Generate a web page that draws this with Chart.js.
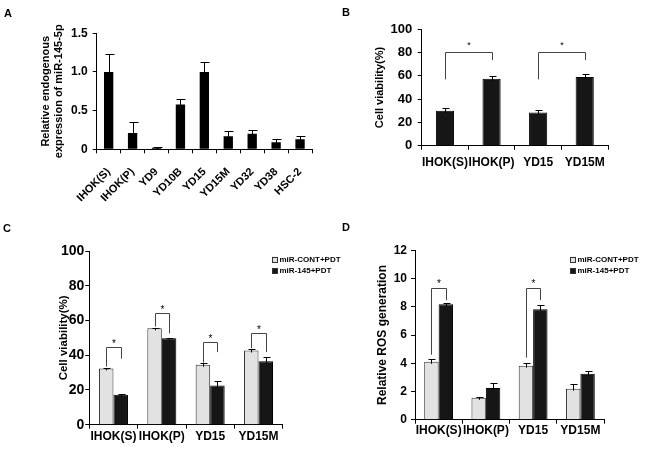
<!DOCTYPE html>
<html><head><meta charset="utf-8">
<script src="https://cdn.jsdelivr.net/npm/chart.js@4/dist/chart.umd.min.js"></script>
<style>
html,body{margin:0;padding:0;background:#fff;}
#wrap{position:relative;width:650px;height:454px;overflow:hidden;background:#fff;}
canvas{position:absolute;}
.lbl{position:absolute;font:bold 11px "Liberation Sans",Arial,sans-serif;line-height:11px;color:#000;}
</style></head><body>
<div id="wrap">
<canvas id="cA" width="325" height="227" style="left:0;top:0"></canvas>
<canvas id="cB" width="325" height="227" style="left:325px;top:0"></canvas>
<canvas id="cC" width="345" height="227" style="left:0;top:227px"></canvas>
<canvas id="cD" width="325" height="227" style="left:325px;top:227px"></canvas>
<div class="lbl" style="left:4px;top:7.6px">A</div>
<div class="lbl" style="left:342px;top:6.6px">B</div>
<div class="lbl" style="left:3px;top:222.6px">C</div>
<div class="lbl" style="left:342px;top:221.6px">D</div>
</div>
<script>
// ---- data ----
const aLabels = ['IHOK(S)','IHOK(P)','YD9','YD10B','YD15','YD15M','YD32','YD38','HSC-2'];
const aValues = [1.0, 0.21, 0.02, 0.58, 1.0, 0.17, 0.2, 0.09, 0.13];
const aErrors = [0.23, 0.14, 0.01, 0.07, 0.13, 0.07, 0.05, 0.04, 0.04];

const bLabels = ['IHOK(S)','IHOK(P)','YD15','YD15M'];
const bValues = [30, 57.5, 28.5, 59];
const bErrors = [2.4, 2.5, 2.4, 3];
// [left category, right category, bracket top, left leg end, right leg end]
const bBrackets = [[0, 1, 80.5, 57, 73.5], [2, 3, 80.5, 57, 73.5]];

const cdLabels = ['IHOK(S)','IHOK(P)','YD15','YD15M'];
const seriesNames = ['miR-CONT+PDT','miR-145+PDT'];
const cCont = [32.4, 55.5, 34.5, 42.7];
const cContErr = [0.3, 0.3, 0.8, 0.7];
const c145 = [17.3, 49.8, 22.5, 36.6];
const c145Err = [0.4, 0.4, 2.4, 2.3];
// [category, bracket top, left leg end, right leg end]
const cBrackets = [[0, 44.7, 33.5, 38], [1, 64.3, 56.5, 52.5], [2, 47.6, 35.8, 41.8], [3, 52.8, 44, 41.8]];

const dCont = [4.1, 1.55, 3.83, 2.2];
const dContErr = [0.19, 0.05, 0.18, 0.3];
const d145 = [8.18, 2.25, 7.82, 3.26];
const d145Err = [0.1, 0.35, 0.28, 0.18];
const dBrackets = [[0, 9.35, 4.6, 8.47], [2, 9.3, 4.4, 8.47]];

// ---- helpers ----
const FAM = '"Liberation Sans", Arial, sans-serif';
const LIGHT = '#e2e2e2', DARK = '#161616';
const WT = 'bold';

const marks = {
  id: 'marks',
  afterDatasetsDraw(chart, args, o) {
    const ctx = chart.ctx, ys = chart.scales.y;
    ctx.save();
    ctx.lineWidth = 1;
    chart.data.datasets.forEach((ds, di) => {
      if (!ds.errors) return;
      chart.getDatasetMeta(di).data.forEach((bar, i) => {
        const x = Math.round(bar.x) + 0.5;
        const y1 = Math.round(ys.getPixelForValue(ds.data[i] + ds.errors[i])) + 0.5;
        ctx.strokeStyle = '#000';
        ctx.beginPath();
        ctx.moveTo(x, bar.y + 2); ctx.lineTo(x, y1);
        ctx.moveTo(x - o.cap, y1); ctx.lineTo(x + o.cap + 1, y1);
        ctx.stroke();
      });
    });
    (o.brackets || []).forEach(b => {
      const xl = Math.round(chart.getDatasetMeta(b.ld).data[b.li].x) + 0.5;
      const xr = Math.round(chart.getDatasetMeta(b.rd).data[b.ri].x) + 0.5;
      const yt = Math.round(ys.getPixelForValue(b.top)) + 0.5;
      const yl = ys.getPixelForValue(b.leftEnd), yr = ys.getPixelForValue(b.rightEnd);
      ctx.strokeStyle = '#444';
      ctx.beginPath();
      ctx.moveTo(xl, yl); ctx.lineTo(xl, yt); ctx.lineTo(xr, yt); ctx.lineTo(xr, yr);
      ctx.stroke();
      ctx.fillStyle = '#000';
      ctx.font = o.starSize + 'px ' + FAM;
      ctx.textAlign = 'center'; ctx.textBaseline = 'alphabetic';
      ctx.fillText('*', (xl + xr) / 2, yt - o.starGap + 0.58 * o.starSize);
    });
    if (o.legend) {
      const L = o.legend;
      chart.data.datasets.forEach((ds, i) => {
        const cy = L.y + i * L.gap;
        ctx.fillStyle = ds.backgroundColor;
        ctx.fillRect(L.x, cy - L.box / 2, L.box, L.box);
        ctx.strokeStyle = '#333';
        ctx.strokeRect(L.x + 0.5, Math.round(cy - L.box / 2) + 0.5, L.box - 1, L.box - 1);
        ctx.fillStyle = '#000';
        ctx.font = WT + ' ' + L.size + 'px ' + FAM;
        ctx.textAlign = 'left'; ctx.textBaseline = 'middle';
        ctx.fillText(ds.label, L.x + L.box + 1.5, cy);
      });
    }
    ctx.restore();
  }
};

function makeChart(id, p) {
  return new Chart(document.getElementById(id), {
    type: 'bar',
    data: { labels: p.labels, datasets: p.datasets },
    plugins: [marks],
    options: {
      responsive: false, animation: false,
      layout: { padding: { left: p.padL, top: p.padT, right: p.padR, bottom: 0 } },
      plugins: { legend: { display: false }, tooltip: { enabled: false }, marks: p.marks },
      datasets: { bar: { barPercentage: p.barPct, categoryPercentage: p.catPct } },
      scales: {
        x: {
          ticks: { font: { size: p.xFont, family: FAM, weight: WT }, color: '#000', padding: p.xPad,
                   maxRotation: p.rot, minRotation: p.rot, autoSkip: false },
          grid: { display: true, drawOnChartArea: false, drawTicks: true, tickLength: 4, color: '#000' },
          border: { display: true, color: '#000', width: 1 },
          afterFit(s) { s.height = p.xH; s.paddingLeft = 0; s.paddingRight = 0; }
        },
        y: {
          min: 0, max: p.max,
          ticks: { stepSize: p.step, font: { size: p.yFont, family: FAM, weight: WT }, color: '#000', padding: p.yPad },
          grid: { display: true, drawOnChartArea: false, drawTicks: true, tickLength: 4, color: '#000' },
          border: { display: true, color: '#000', width: 1 },
          title: { display: true, text: p.title, color: '#000', padding: 0,
                   font: { size: p.tFont, family: FAM, weight: WT, lineHeight: 1.2 } },
          afterFit(s) { s.width = p.yW; s.paddingTop = 0; s.paddingBottom = 0; }
        }
      }
    }
  });
}

function pairBrackets(list) {
  return list.map(b => ({ ld: 0, li: b[0], rd: 1, ri: b[0], top: b[1], leftEnd: b[2], rightEnd: b[3] }));
}

// Panel A
makeChart('cA', {
  labels: aLabels,
  datasets: [{ label: 'A', data: aValues, errors: aErrors, backgroundColor: '#000', borderColor: '#000', borderWidth: 0 }],
  padL: 39.4, padT: 33.3, padR: 13, xH: 77.7, yW: 57.3,
  barPct: 0.39, catPct: 1, xFont: 11, yFont: 12, tFont: 11, xPad: 12, yPad: 5, rot: 45,
  max: 1.5, step: 0.5, title: ['Relative endogenous', 'expression of miR-145-5p'],
  marks: { cap: 4, brackets: [] }
});

// Panel B
makeChart('cB', {
  labels: bLabels,
  datasets: [{ label: 'B', data: bValues, errors: bErrors, backgroundColor: DARK, borderColor: '#000', borderWidth: 1 }],
  padL: 48.4, padT: 29.3, padR: 42, xH: 81.3, yW: 48.3,
  barPct: 0.39, catPct: 1, xFont: 12, yFont: 13, tFont: 11, xPad: 5.5, yPad: 5.5, rot: 0,
  max: 100, step: 20, title: 'Cell viability(%)',
  marks: { cap: 3, starSize: 9, starGap: 10,
           brackets: bBrackets.map(b => ({ ld: 0, li: b[0], rd: 0, ri: b[1], top: b[2], leftEnd: b[3], rightEnd: b[4] })) }
});

// Panel C
makeChart('cC', {
  labels: cdLabels,
  datasets: [
    { label: seriesNames[0], data: cCont, errors: cContErr, backgroundColor: LIGHT, borderColor: '#333', borderWidth: 1 },
    { label: seriesNames[1], data: c145, errors: c145Err, backgroundColor: DARK, borderColor: '#000', borderWidth: 1 }
  ],
  padL: 56.7, padT: 24, padR: 62.3, xH: 29.3, yW: 32.6,
  barPct: 1, catPct: 0.6, xFont: 12, yFont: 14, tFont: 11.5, xPad: 1, yPad: 1, rot: 0,
  max: 100, step: 20, title: 'Cell viability(%)',
  marks: { cap: 3, starSize: 10, starGap: 6, brackets: pairBrackets(cBrackets),
           legend: { x: 272, y: 32.5, gap: 11.5, box: 6, size: 8 } }
});

// Panel D
makeChart('cD', {
  labels: cdLabels,
  datasets: [
    { label: seriesNames[0], data: dCont, errors: dContErr, backgroundColor: LIGHT, borderColor: '#333', borderWidth: 1 },
    { label: seriesNames[1], data: d145, errors: d145Err, backgroundColor: DARK, borderColor: '#000', borderWidth: 1 }
  ],
  padL: 50.8, padT: 23.3, padR: 46, xH: 34.3, yW: 39.2,
  barPct: 1, catPct: 0.61, xFont: 12, yFont: 12, tFont: 12, xPad: 0, yPad: 4, rot: 0,
  max: 12, step: 2, title: 'Relative ROS generation',
  marks: { cap: 3, starSize: 10, starGap: 7, brackets: pairBrackets(dBrackets),
           legend: { x: 245, y: 32.5, gap: 11.5, box: 6, size: 8 } }
});
</script>
</body></html>
